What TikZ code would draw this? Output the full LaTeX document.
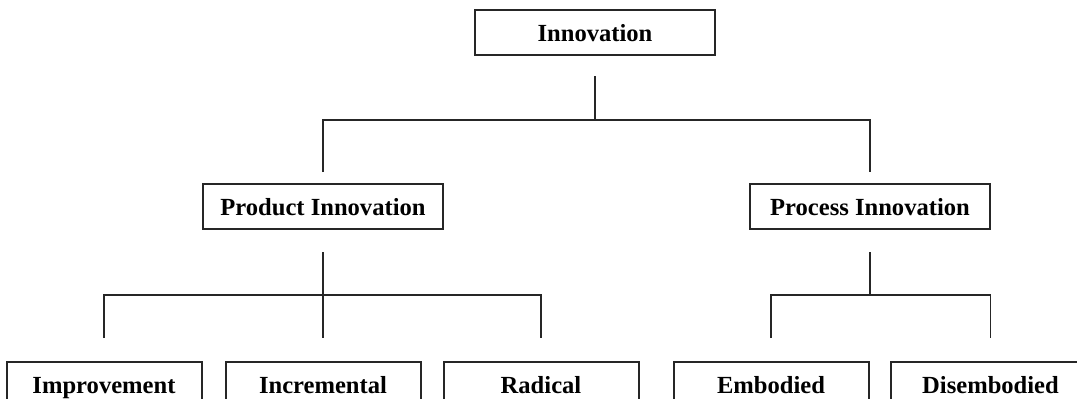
\documentclass[tikz,border=0pt]{standalone}
\usepackage{fontspec}
\setmainfont{Liberation Serif}
\usepackage{tikz}
\usetikzlibrary{positioning, calc}

\begin{document}
\begin{tikzpicture}[
      cat/.style={draw=black!85, line width=1pt, inner sep=0pt,
                  minimum width=120pt, minimum height=22.5pt,
                  text height=9.8pt, text depth=1.2pt,
                  font=\fontsize{12.3}{14}\selectfont\bfseries, align=center},
      leaf/.style={cat, minimum width=97.5pt},
      link/.style={draw=black!85, line width=0.8pt}]

    \useasboundingbox (0,0) rectangle (538.5pt,-199pt);

    % ── Racine ──
    \node[cat] (top) at (297.5pt,-16.25pt) {Innovation};

    % ── Deux types ──
    \node[cat, below=63.5pt of top, xshift=-136pt] (prod) {Product Innovation};
    \node[cat, right=152.5pt of prod] (proc) {Process Innovation};

    % ── Feuilles ──
    \node[leaf, below=65.5pt of prod] (inc) {Incremental};
    \node[leaf, left=11pt of inc] (imp) {Improvement};
    \node[leaf, right=10.5pt of inc] (rad) {Radical};
    \node[leaf, right=16.5pt of rad] (emb) {Embodied};
    \node[leaf, right=10pt of emb, minimum width=100pt] (dis) {Disembodied};

    % ── Jonctions ──
    \coordinate (tj) at ([yshift=-32pt]top.south);
    \coordinate (pj) at ([yshift=-32.5pt]prod.south);
    \coordinate (qj) at ([yshift=-32.5pt]proc.south);

    % ── Traits ──
    \draw[link] ([yshift=-10pt]top.south) -- (tj);
    \draw[link] ([yshift=5.5pt]prod.north) |- (tj) -| ([yshift=5.5pt]proc.north);
    \draw[link] ([yshift=-11pt]prod.south) -- (pj);
    \draw[link] ([yshift=11.5pt]imp.north) |- (pj) -| ([yshift=11.5pt]rad.north);
    \draw[link] (pj) -- ([yshift=11.5pt]inc.north);
    \draw[link] ([yshift=-11pt]proc.south) -- (qj);
    \draw[link] ([yshift=11.5pt]emb.north) |- (qj) -| ([yshift=11.5pt]dis.north);

  \end{tikzpicture}
\end{document}
